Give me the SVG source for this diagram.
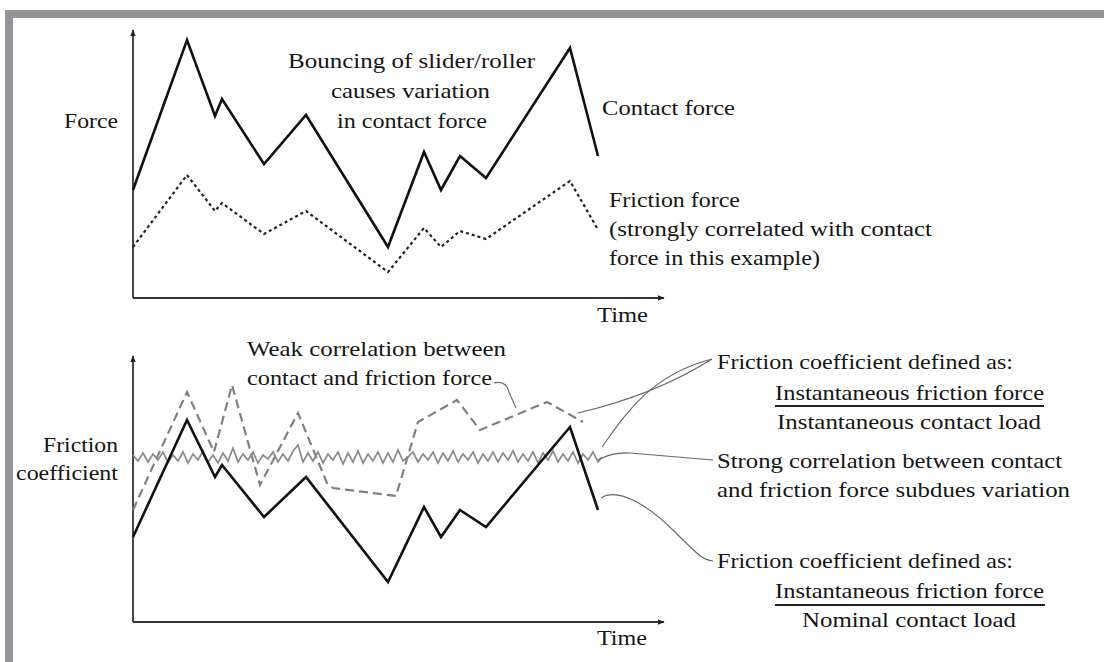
<svg xmlns="http://www.w3.org/2000/svg" width="1104" height="662" viewBox="0 0 1104 662">
<style>
text{font-family:"Liberation Serif","Times New Roman",serif;font-size:21px;fill:#151515}
.ax{stroke:#333;stroke-width:1.8;fill:none}
.solid{stroke:#111;stroke-width:2.6;fill:none;stroke-linejoin:miter}
.dot{stroke:#222;stroke-width:2.2;fill:none;stroke-dasharray:3 3}
.dash{stroke:#808080;stroke-width:2.2;fill:none;stroke-dasharray:9 5}
.zig{stroke:#8a8a8a;stroke-width:1.7;fill:none}
.lead{stroke:#666;stroke-width:1.1;fill:none}
.ul{stroke:#222;stroke-width:2}
</style>
<defs>
<marker id="ah" viewBox="0 0 10 10" refX="9" refY="5" markerWidth="7" markerHeight="7" orient="auto" markerUnits="userSpaceOnUse">
<path d="M0,1 L10,5 L0,9 z" fill="#222"/>
</marker>
</defs>
<rect width="1104" height="662" fill="#fff"/>
<g id="frame" fill="#939598">
<rect x="5" y="10" width="1099" height="8"/>
<rect x="5" y="10" width="8" height="652"/>
</g>
<g id="axes">
<path class="ax" d="M133,298 V30" marker-end="url(#ah)"/>
<path class="ax" d="M133,298 H664" marker-end="url(#ah)"/>
<path class="ax" d="M133,622 V356" marker-end="url(#ah)"/>
<path class="ax" d="M133,622 H664" marker-end="url(#ah)"/>
</g>
<g id="curves">
<polyline id="contact-force" class="solid" points="133,190 187,40 215,116 222,99 264,164 306,115 388,247 424,152 441,190 460,156 486,178 570,48 598,156"/>
<polyline id="friction-force" class="dot" points="133,247 187,175 215,211 222,203 264,234 306,211 388,272 424,228 441,247 460,231 486,239 570,181 597,228"/>
<polyline id="weak-corr" class="dash" points="133,510 187,392 214,452 232,385 260,485 298,413 327,483 333,488 396,496 418,422 457,400 480,430 547,402 583,422"/>
<polyline id="strong-corr" class="zig" points="133,455 138,461 143,453 148,462 153,454 158,460 163,452 168,462 173,455 178,461 183,452 188,463 193,454 198,460 203,451 208,462 213,455 218,463 223,453 228,461 233,448 238,462 243,454 248,460 253,452 258,463 263,455 268,459 273,452 278,462 283,454 288,461 293,451 298,445 303,462 308,453 313,461 318,452 323,463 328,454 333,460 338,452 343,464 348,453 353,462 358,451 363,463 368,454 373,461 378,452 383,463 388,453 393,462 398,450 403,461 408,457 413,452 418,462 423,454 428,460 433,452 438,463 443,453 448,461 453,451 458,462 463,454 468,460 473,452 478,463 483,454 488,461 493,452 498,462 503,453 508,460 513,451 518,462 523,454 528,461 533,452 538,463 543,453 548,460 553,451 558,462 563,454 568,461 573,452 578,463 583,454 588,460 593,452 598,462 602,457"/>
<polyline id="nominal-coef" class="solid" points="133,537 187,420 215,477 222,465 264,517 306,477 388,582 424,507 441,537 460,510 486,527 570,427 598,510"/>
</g>
<g id="connectors">
<path class="lead" d="M494,383 Q506,380 509,392 L516,408"/>
<path class="lead" d="M578,413 Q655,395 712,359"/>
<path class="lead" d="M602,447 C625,415 650,375 712,359"/>
<path class="lead" d="M598,460 Q612,452 630,453 L713,460"/>
<path class="lead" d="M601,498 C618,487 648,505 675,532 S704,560 713,561"/>
</g>
<g id="label-force"><text x="64" y="128" textLength="54" lengthAdjust="spacingAndGlyphs">Force</text></g>
<g id="label-bouncing">
<text x="288" y="68" textLength="247" lengthAdjust="spacingAndGlyphs">Bouncing of slider/roller</text>
<text x="331" y="98" textLength="159" lengthAdjust="spacingAndGlyphs">causes variation</text>
<text x="337" y="128" textLength="150" lengthAdjust="spacingAndGlyphs">in contact force</text>
</g>
<g id="label-contact"><text x="602" y="115" textLength="133" lengthAdjust="spacingAndGlyphs">Contact force</text></g>
<g id="label-friction">
<text x="609" y="207" textLength="131" lengthAdjust="spacingAndGlyphs">Friction force</text>
<text x="609" y="236" textLength="323" lengthAdjust="spacingAndGlyphs">(strongly correlated with contact</text>
<text x="609" y="265" textLength="211" lengthAdjust="spacingAndGlyphs">force in this example)</text>
</g>
<g id="label-time1"><text x="597" y="322" textLength="51" lengthAdjust="spacingAndGlyphs">Time</text></g>
<g id="label-weak">
<text x="247" y="356" textLength="259" lengthAdjust="spacingAndGlyphs">Weak correlation between</text>
<text x="247" y="385" textLength="245" lengthAdjust="spacingAndGlyphs">contact and friction force</text>
</g>
<g id="label-coef">
<text x="43" y="452" textLength="75" lengthAdjust="spacingAndGlyphs">Friction</text>
<text x="16" y="480" textLength="102" lengthAdjust="spacingAndGlyphs">coefficient</text>
</g>
<g id="label-def1">
<text x="717" y="369" textLength="296" lengthAdjust="spacingAndGlyphs">Friction coefficient defined as:</text>
<text x="775" y="400" textLength="269" lengthAdjust="spacingAndGlyphs">Instantaneous friction force</text>
<line class="ul" x1="775" y1="406" x2="1044" y2="406"/>
<text x="777" y="429" textLength="264" lengthAdjust="spacingAndGlyphs">Instantaneous contact load</text>
</g>
<g id="label-strong">
<text x="717" y="468" textLength="345" lengthAdjust="spacingAndGlyphs">Strong correlation between contact</text>
<text x="717" y="497" textLength="353" lengthAdjust="spacingAndGlyphs">and friction force subdues variation</text>
</g>
<g id="label-def2">
<text x="717" y="568" textLength="296" lengthAdjust="spacingAndGlyphs">Friction coefficient defined as:</text>
<text x="775" y="598" textLength="269" lengthAdjust="spacingAndGlyphs">Instantaneous friction force</text>
<line class="ul" x1="775" y1="605" x2="1045" y2="605"/>
<text x="802" y="627" textLength="214" lengthAdjust="spacingAndGlyphs">Nominal contact load</text>
</g>
<g id="label-time2"><text x="597" y="645" textLength="50" lengthAdjust="spacingAndGlyphs">Time</text></g>
</svg>
